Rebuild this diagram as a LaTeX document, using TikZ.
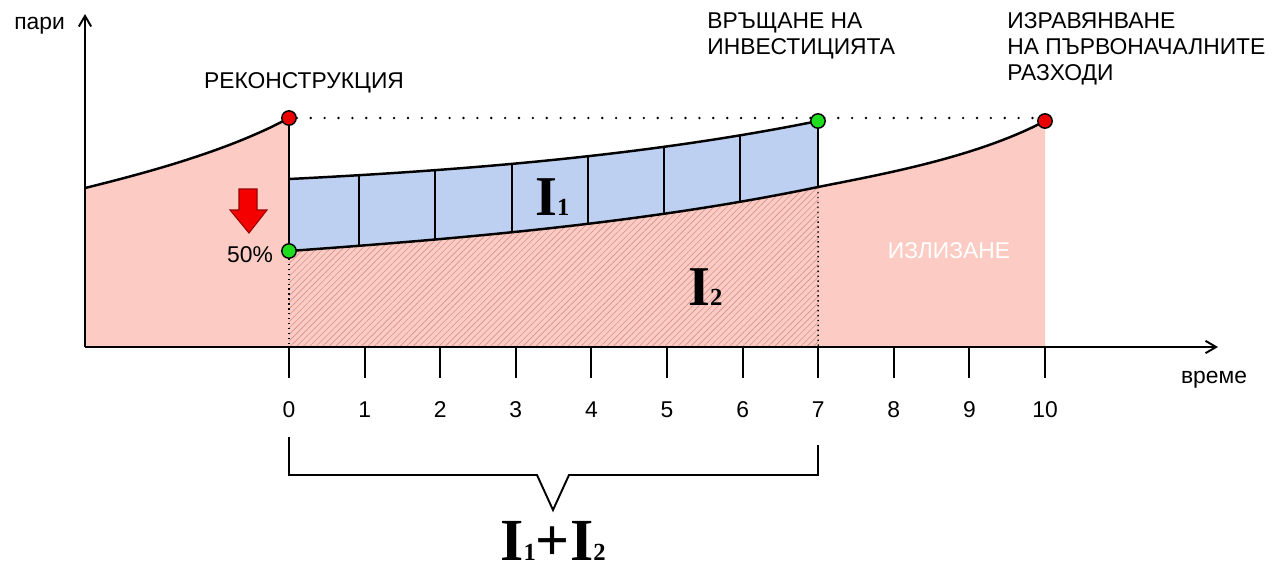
\documentclass[tikz,border=0pt]{standalone}
\usepackage{fontspec}
\setmainfont{Liberation Sans}
\newfontfamily\bigserif{Liberation Serif}
\usetikzlibrary{arrows.meta,patterns.meta,calc}
\definecolor{lossfill}{RGB}{252,204,196}
\definecolor{bandfill}{RGB}{189,208,242}
\definecolor{hatchcol}{RGB}{212,145,140}
\definecolor{dotred}{RGB}{235,0,0}
\definecolor{dotgreen}{RGB}{30,220,30}
\definecolor{arrowred}{RGB}{245,0,0}
\newcommand{\Isub}[1]{I\raisebox{-0.3pt}{\fontsize{14}{14}\selectfont #1}}
\tikzset{
  >={Straight Barb[length=6pt,width=7pt]},
  axis/.style={line width=1.1pt},
  curve/.style={line width=1.4pt},
  tickmark/.style={line width=1.1pt},
  dotline/.style={line width=1.5pt, line cap=round, dash pattern=on 0pt off 7.9pt},
  reddot/.style={draw, circle, fill=dotred, line width=0.8pt, minimum size=8.2pt, inner sep=0pt},
  greendot/.style={draw, circle, fill=dotgreen, line width=0.8pt, minimum size=8.2pt, inner sep=0pt},
  lbl/.style={font=\fontsize{13}{14.7}\selectfont, inner sep=0pt},
  big/.style={font=\bigserif\bfseries\fontsize{32}{32}\selectfont, inner sep=0pt}
}

\begin{document}
\begin{tikzpicture}[x=0.02cm,y=-0.02cm]
\useasboundingbox (0,0) rectangle (1272,572);

% ------------------------------------------------------------------
% areas
% ------------------------------------------------------------------
\fill[lossfill] (85,347) -- (85,188) .. controls (150,172) and (230,150) .. (289,118)
  -- (289,347) -- cycle;
\fill[lossfill] (289,251) .. controls (470,238) and (650,222) .. (818,187)
  -- (818,347) -- (289,347) -- cycle;
\fill[pattern={Lines[angle=45,distance=2.6pt,line width=0.35pt]}, pattern color=hatchcol]
  (289,251) .. controls (470,238) and (650,222) .. (818,187)
  -- (818,347) -- (289,347) -- cycle;
\fill[lossfill] (818,187) .. controls (878,175) and (975,158) .. (1045,121)
  -- (1045,347) -- (818,347) -- cycle;

\path[fill=bandfill] (289,179) .. controls (470,170) and (650,155) .. (818,121)
  -- (818,187) .. controls (650,222) and (470,238) .. (289,251) -- cycle;
\begin{scope}
  \clip (289,179) .. controls (470,170) and (650,155) .. (818,121)
    -- (818,187) .. controls (650,222) and (470,238) .. (289,251) -- cycle;
  \foreach \x in {359,435,512,588,664,740}
    \draw[line width=1.1pt] (\x,100) -- (\x,270);
\end{scope}

% ------------------------------------------------------------------
% curves
% ------------------------------------------------------------------
\draw[curve] (85,188) .. controls (150,172) and (230,150) .. (289,118);
\draw[curve] (289,179) .. controls (470,170) and (650,155) .. (818,121);
\draw[curve] (289,251) .. controls (470,238) and (650,222) .. (818,187)
  .. controls (878,175) and (975,158) .. (1045,121);

% ------------------------------------------------------------------
% axes and ticks
% ------------------------------------------------------------------
\coordinate (O) at (85,347);
\coordinate (ytop) at (85,14);
\coordinate (xend) at (1218,347);
\foreach \i in {0,...,10} {
  \coordinate (t\i) at ({289+75.6*\i},347);
  \draw[tickmark] (t\i) -- ++(0,31);
  \node[lbl, anchor=base] (n\i) at ({289+75.6*\i},417) {\i};
}
\draw[axis,->] (O) -- (ytop);
\draw[axis,->] (O) -- (xend);

% ------------------------------------------------------------------
% points
% ------------------------------------------------------------------
\node[reddot] (recon) at (289,118) {};
\node[greendot] (half) at (289,251) {};
\node[greendot] (payback) at (818,121) {};
\node[reddot] (even) at (1045,121) {};

\draw[dotted, line width=0.8pt] (half) -- (t0);
\draw[dotted, line width=0.8pt] (818,187) -- (t7);
\draw[curve] (recon) -- (half);
\draw[curve] (payback) -- (818,187);
\draw[dotline] (recon.east) -- (recon -| even.west);

% drop arrow
\draw[fill=arrowred, draw=red!60!black, line width=0.6pt]
  (239,189) -- (257,189) -- (257,210) -- (267,210) -- (249,233)
  -- (230,210) -- (239,210) -- cycle;

% ------------------------------------------------------------------
% labels
% ------------------------------------------------------------------
\node[lbl, anchor=base west] (money) at (14,29) {пари};
\node[lbl, anchor=base] (time) at (1214,383) {време};
\node[lbl, anchor=base] (reconlbl) at (304,88) {РЕКОНСТРУКЦИЯ};
\node[lbl, anchor=base west, align=left] (paybacklbl) at (707,54)
  {ВРЪЩАНЕ НА\\ИНВЕСТИЦИЯТА};
\node[lbl, anchor=base west, align=left] (evenlbl) at (1007,80)
  {ИЗРАВЯНВАНЕ\\НА ПЪРВОНАЧАЛНИТЕ\\РАЗХОДИ};
\node[lbl, anchor=base] (halflbl) at (250,262) {50\%};
\node[lbl, anchor=base, text=white] (exitlbl) at (949,258) {ИЗЛИЗАНЕ};
\node[big, anchor=base west] (Ione) at (535,215) {\Isub{1}};
\node[big, anchor=base west] (Itwo) at (688,305) {\Isub{2}};

% bracket
\coordinate (vtip) at (553,510);
\draw[axis] (289,437) |- (537,475) -- (vtip) -- (569,475) -| (818,445);
\node[big, anchor=base, font=\bigserif\bfseries\fontsize{34}{34}\selectfont] (sumlbl) at (553,560)
  {\Isub{1}+\Isub{2}};

\end{tikzpicture}
\end{document}
